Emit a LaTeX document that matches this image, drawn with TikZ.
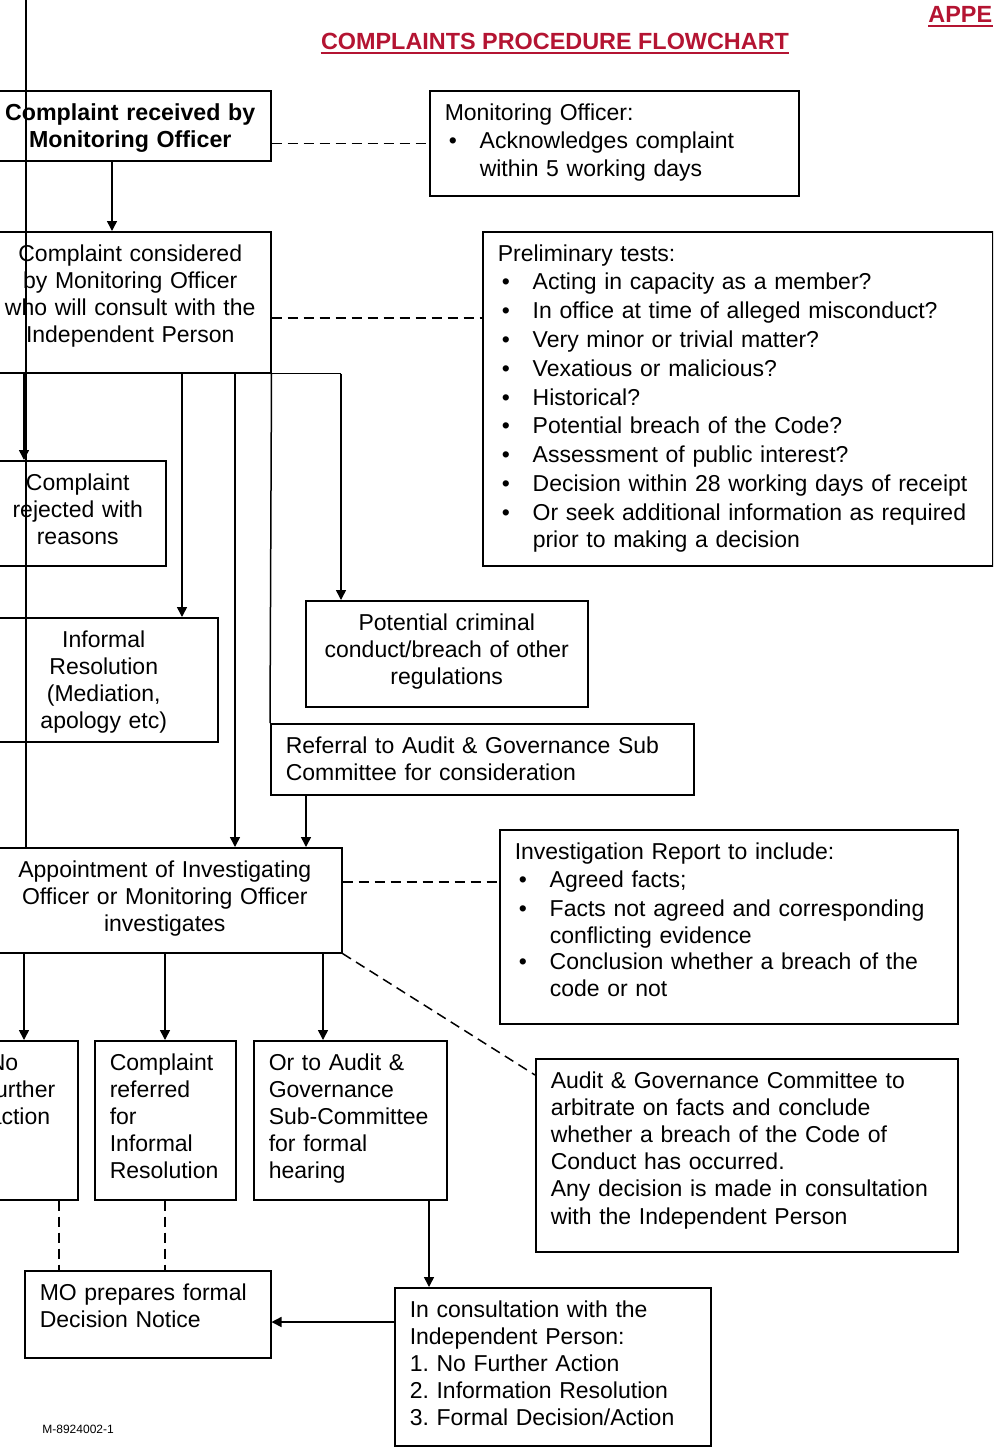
\documentclass[tikz,border=0pt]{standalone}
\usepackage{fontspec}
\setmainfont{Liberation Sans}
\usetikzlibrary{arrows.meta}
\definecolor{hdred}{RGB}{180,20,50}
\hyphenpenalty=10000
\exhyphenpenalty=10000
\frenchspacing
\newcommand{\blt}[1]{\par\vskip0.8pt\noindent\makebox[17.5pt][l]{\hspace{2pt}\textbullet}\parbox[t]{\dimexpr\linewidth-17.5pt\relax}{\raggedright #1}}
\tikzset{
  txt/.style={font=\fontsize{11.5}{13.6}\selectfont},
  bx/.style 2 args={draw, line width=.75pt, anchor=north west, txt,
    inner xsep=7.5pt, inner ysep=5.7pt, text height=9pt, align=left,
    text width=#1pt, text depth=#2pt},
  cbx/.style 2 args={bx={#1}{#2}, inner xsep=3pt, align=center},
  arr/.style={line width=.75pt, -{Triangle[length=5pt,width=5pt]}},
  dsh/.style={line width=.75pt, dash pattern=on 5pt off 3pt},
}
\begin{document}
\begin{tikzpicture}[x=0.5pt, y=-0.5pt]
\useasboundingbox (0,0) rectangle (993,1447);
\clip (0,0) rectangle (993,1447);

% heading
\node (ttl) [anchor=base, inner sep=0pt, text=hdred, font=\fontsize{11.7}{13.6}\selectfont\bfseries] at (555,49.4) {COMPLAINTS PROCEDURE FLOWCHART};
\draw[hdred, line width=1pt] ([yshift=-1.6pt]ttl.base west) -- ([yshift=-1.6pt]ttl.base east);
\node (appx) [anchor=base west, inner sep=0pt, text=hdred, font=\fontsize{11.7}{13.6}\selectfont\bfseries] at (928,22.4) {APPE};
\draw[hdred, line width=1pt] ([yshift=-1.6pt]appx.base west) -- ([yshift=-1.6pt]appx.base east -| 993,0);

% first stage
\node (recv) [cbx={134.5}{14.6}, font=\fontsize{11.6}{13.6}\selectfont\bfseries] at (-11,90) {Complaint received by\\Monitoring Officer};
\node (mo) [bx={169.5}{32.1}] at (429,90) {Monitoring Officer:\blt{Acknowledges complaint\newline within 5 working days}};
\node (cons) [cbx={134.5}{50.1}] at (-11,231) {Complaint considered\\by Monitoring Officer\\who will consult with the\\Independent Person};
\node (prelim) [bx={240}{146.6}] at (482,231) {Preliminary tests:\blt{Acting in capacity as a member?}\blt{In office at time of alleged misconduct?}\blt{Very minor or trivial matter?}\blt{Vexatious or malicious?}\blt{Historical?}\blt{Potential breach of the Code?}\blt{Assessment of public interest?}\blt{Decision within 28 working days of receipt}\blt{Or seek additional information as required\newline prior to making a decision}};

% outcomes of the assessment
\node (rej) [cbx={82}{32.1}] at (-11,460) {Complaint\\rejected with\\reasons};
\node (inf) [cbx={108}{41.6}] at (-11,617) {Informal\\Resolution\\(Mediation,\\apology etc)};
\node (crim) [cbx={135}{32.6}] at (305,600) {Potential criminal\\conduct/breach of other\\regulations};
\node (ref) [bx={196.5}{15.1}] at (270,723) {Referral to Audit \& Governance Sub\\Committee for consideration};

% investigation
\node (app) [cbx={171}{32.1}] at (-13,847) {Appointment of Investigating\\Officer or Monitoring Officer\\investigates};
\node (irep) [bx={214}{76.6}] at (499,829) {Investigation Report to include:\blt{Agreed facts;}\blt{Facts not agreed and corresponding\newline conflicting evidence}\blt{Conclusion whether a breach of the\newline code or not}};
\node (nfa) [bx={37}{59.1}] at (-27,1040) {No\\further\\action};
\node (cref) [bx={55.5}{59.1}] at (94,1040) {Complaint\\referred\\for\\Informal\\Resolution};
\node (oraud) [bx={81.5}{59.1}] at (253,1040) {Or to Audit \&\\Governance\\Sub-Committee\\for formal\\hearing};
\node (agc) [bx={196}{76.1}] at (535,1058) {Audit \& Governance Committee to\\arbitrate on facts and conclude\\whether a breach of the Code of\\Conduct has occurred.\\Any decision is made in consultation\\with the Independent Person};

% decision
\node (mopd) [bx={108}{23.1}] at (24,1270) {MO prepares formal\\Decision Notice};
\node (incons) [bx={143}{58.6}] at (394,1287) {In consultation with the\\Independent Person:\\1. No Further Action\\2. Information Resolution\\3. Formal Decision/Action};
\node (docref) [anchor=base west, inner sep=0pt, font=\fontsize{6}{7}\selectfont] at (42,1433) {M-8924002-1};

% connectors
\draw[arr] (recv.south -| 112,0) -- (cons.north -| 112,0);
\draw[dsh] (recv.east |- mo.west) -- (mo.west);
\draw[dsh] (cons.east |- 0,318) -- (prelim.west |- 0,318);
\coordinate (fork) at (cons.south -| 341,0);
\draw[line width=.75pt] (cons.south east) -- (fork);
\draw[arr] (fork) -- (crim.north -| fork);
\draw[arr] (cons.south -| 24,0) -- (rej.north -| 24,0);
\draw[arr] (cons.south -| 182,0) -- (inf.north -| 182,0);
\draw[arr] (cons.south -| 235,0) -- (app.north -| 235,0);
\draw[line width=.75pt] (cons.south east) -- (ref.north west);
\draw[arr] (ref.south -| 306,0) -- (app.north -| 306,0);
\draw[dsh] (app.east |- 0,882) -- (irep.west |- 0,882);
\draw[dsh] (app.south east) -- (agc.north west |- 0,1075);
\draw[arr] (app.south -| 24,0) -- (nfa.north -| 24,0);
\draw[arr] (app.south -| 165,0) -- (cref.north -| 165,0);
\draw[arr] (app.south -| 323,0) -- (oraud.north -| 323,0);
\draw[dsh] (nfa.south -| 59,0) -- (mopd.north -| 59,0);
\draw[dsh] (cref.south -| 165,0) -- (mopd.north -| 165,0);
\draw[arr] (oraud.south -| 429,0) -- (incons.north -| 429,0);
\draw[arr] (incons.west |- 0,1322) -- (mopd.east |- 0,1322);
% line down the left margin
\draw[line width=1.3pt] (26,0) -- (app.north -| 26,0);
\end{tikzpicture}
\end{document}
